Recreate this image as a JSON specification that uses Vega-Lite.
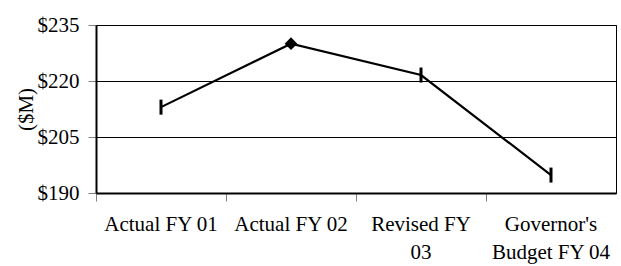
{
  "$schema": "https://vega.github.io/schema/vega-lite/v6.json",
  "width": 520,
  "height": 168,
  "autosize": "none",
  "padding": {"left": 96, "top": 25, "right": 5, "bottom": 73},
  "background": "white",
  "config": {
    "font": "Liberation Serif",
    "view": {"stroke": "black", "strokeWidth": 1},
    "axis": {"labelColor": "black", "titleColor": "black", "labelFont": "Liberation Serif", "titleFont": "Liberation Serif", "labelFontWeight": "normal"}
  },
  "data": {
    "values": [
      {"period": "Actual FY 01", "amount": 213.0},
      {"period": "Actual FY 02", "amount": 230.0},
      {"period": "Revised FY 03", "amount": 221.6},
      {"period": "Governor's Budget FY 04", "amount": 194.8}
    ]
  },
  "encoding": {
    "x": {
      "field": "period", "type": "nominal", "sort": null, "bandPosition": 0.5,
      "scale": {"type": "band", "paddingInner": 0, "paddingOuter": 0},
      "axis": {
        "title": null, "labelAngle": 0, "bandPosition": 0, "grid": false,
        "domainColor": "black", "domainWidth": 2, "tickColor": "#808080", "tickSize": 8, "tickWidth": 1,
        "labelFontSize": 21, "labelPadding": 12, "labelLineHeight": 28, "labelBaseline": "top", "labelLimit": 200,
        "labelExpr": "datum.value == 'Revised FY 03' ? ['Revised FY', '03'] : datum.value == \"Governor's Budget FY 04\" ? [\"Governor's\", 'Budget FY 04'] : datum.value"
      }
    },
    "y": {
      "field": "amount", "type": "quantitative",
      "scale": {"domain": [190, 235], "nice": false, "zero": false},
      "axis": {
        "title": "($M)", "values": [190, 205, 220, 235], "labelExpr": "'$' + datum.value",
        "grid": true, "gridColor": "black", "gridWidth": 1,
        "domainColor": "black", "domainWidth": 2, "tickColor": "#808080", "tickSize": 8,
        "labelFontSize": 21, "labelPadding": 9,
        "titleFontSize": 21, "titleFontWeight": "normal", "titleAngle": -90,
        "titleX": -70, "titleY": 84, "titleAlign": "center", "titleBaseline": "middle"
      }
    }
  },
  "layer": [
    {"mark": {"type": "line", "color": "black", "strokeWidth": 2.2}},
    {
      "transform": [{"filter": "datum.period != 'Actual FY 02'"}],
      "mark": {"type": "tick", "orient": "vertical", "color": "black", "opacity": 1, "size": 15, "thickness": 3}
    },
    {
      "transform": [{"filter": "datum.period == 'Actual FY 02'"}],
      "mark": {"type": "point", "shape": "diamond", "filled": true, "color": "black", "opacity": 1, "size": 160}
    }
  ]
}
